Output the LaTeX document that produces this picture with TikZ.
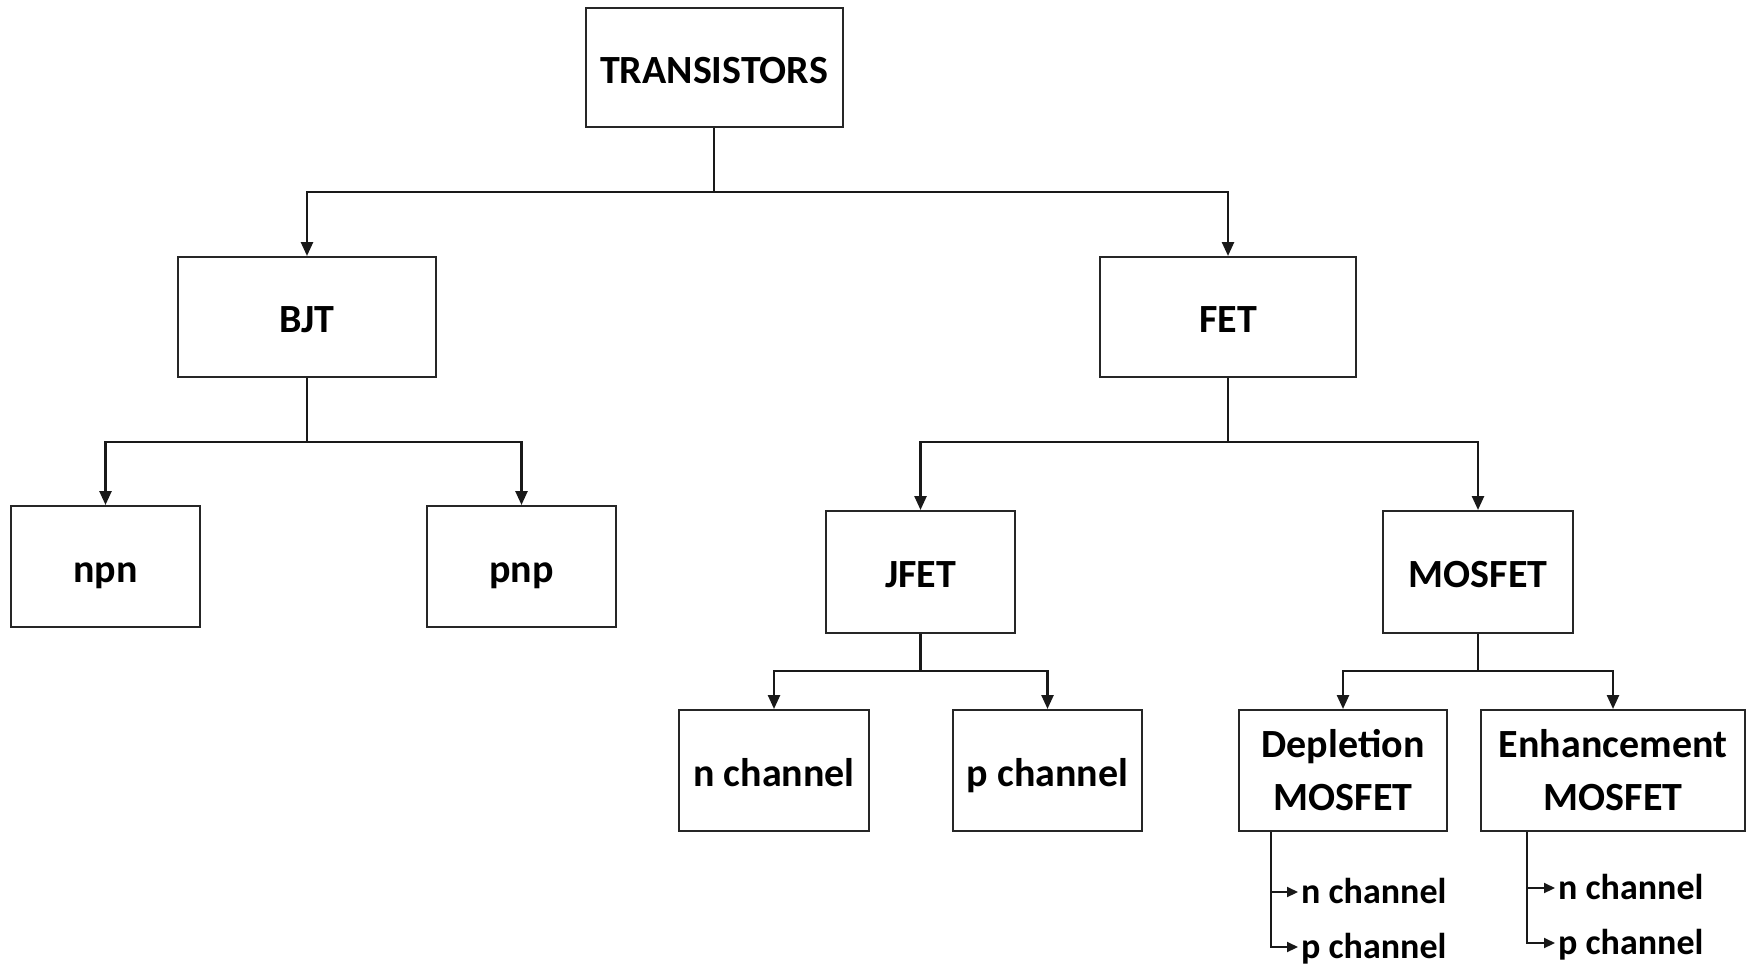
\documentclass[tikz,border=0pt]{standalone}
\usepackage{fontspec}
\setmainfont{Carlito}
\usetikzlibrary{arrows.meta}
\begin{document}
\begin{tikzpicture}[x=1pt,y=-1pt,
  box/.style={draw=black!85, line width=2pt, fill=white, inner sep=0pt,
    font=\fontsize{40}{53}\selectfont\bfseries, align=center},
  onebox/.style={box, text height=34pt, text depth=3pt},
  conn/.style={line width=2.5pt, draw=black!90},
  arr/.style={conn, -{Triangle[length=14pt,width=12pt]}},
  smallarr/.style={conn, line width=2pt, -{Triangle[length=11pt,width=10pt]}},
  item/.style={anchor=west, inner sep=0pt, inner xsep=3pt, text height=22pt, text depth=0pt,
    font=\fontsize{36}{44}\selectfont\bfseries}]
\useasboundingbox[fill=white] (0,0) rectangle (1747,966);

\node[onebox, minimum width=257pt, minimum height=119pt] (T) at (714,67.5) {TRANSISTORS};
\node[onebox, minimum width=258pt, minimum height=120pt] (BJT) at (307,317) {BJT};
\node[onebox, minimum width=256pt, minimum height=120pt] (FET) at (1228,317) {FET};
\node[onebox, minimum width=189pt, minimum height=121pt] (npn) at (105.5,566.5) {npn};
\node[onebox, minimum width=189pt, minimum height=121pt] (pnp) at (521.5,566.5) {pnp};
\node[onebox, minimum width=189pt, minimum height=122pt] (JFET) at (920.5,572) {JFET};
\node[onebox, minimum width=190pt, minimum height=122pt] (MOS) at (1478,572) {MOSFET};
\node[onebox, minimum width=190pt, minimum height=121pt] (nch) at (774,770.5) {n channel};
\node[onebox, minimum width=189pt, minimum height=121pt] (pch) at (1047.5,770.5) {p channel};
\node[box, minimum width=208pt, minimum height=121pt] (Dep) at (1343,770.5) {Depletion\\MOSFET};
\node[box, minimum width=264pt, minimum height=121pt] (Enh) at (1613,770.5) {Enhancement\\MOSFET};

\coordinate (j1) at (714,192);
\coordinate (j2) at (307,442);
\coordinate (j3) at (1228,442);
\coordinate (j4) at (920.5,671);
\coordinate (j5) at (1478,671);

\draw[conn] (T.south) -- (j1);
\draw[arr] (j1) -| (BJT.north);
\draw[arr] (j1) -| (FET.north);
\draw[conn] (BJT.south) -- (j2);
\draw[arr] (j2) -| (npn.north);
\draw[arr] (j2) -| (pnp.north);
\draw[conn] (FET.south) -- (j3);
\draw[arr] (j3) -| (JFET.north);
\draw[arr] (j3) -| (MOS.north);
\draw[conn] (JFET.south) -- (j4);
\draw[arr] (j4) -| (nch.north);
\draw[arr] (j4) -| (pch.north);
\draw[conn] (MOS.south) -- (j5);
\draw[arr] (j5) -| (Dep.north);
\draw[arr] (j5) -| (Enh.north);

\node[item] (dn) at (1298,892) {n channel};
\node[item] (dp) at (1298,947) {p channel};
\node[item] (en) at (1555,888) {n channel};
\node[item] (ep) at (1555,943) {p channel};

\draw[smallarr] ([xshift=-72pt]Dep.south) |- (dn.west);
\draw[smallarr] ([xshift=-72pt]Dep.south) |- (dp.west);
\draw[smallarr] ([xshift=-86pt]Enh.south) |- (en.west);
\draw[smallarr] ([xshift=-86pt]Enh.south) |- (ep.west);
\end{tikzpicture}
\end{document}
